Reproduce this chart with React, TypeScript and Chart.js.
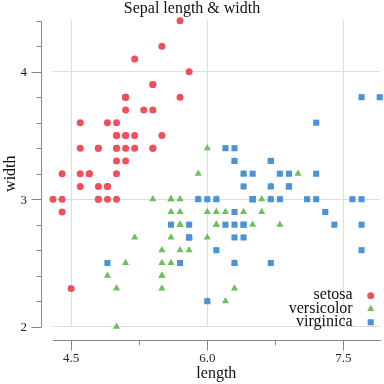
import React, { useEffect, useRef } from 'react';
import { Chart, registerables } from 'chart.js';

Chart.register(...registerables);

const species = ['setosa', 'versicolor', 'virginica'];

const setosaLength = [5.1, 4.9, 4.7, 4.6, 5.0, 5.4, 4.6, 5.0, 4.4, 4.9, 5.4, 4.8, 4.8, 4.3, 5.8, 5.7, 5.4, 5.1, 5.7, 5.1, 5.4, 5.1, 4.6, 5.1, 4.8, 5.0, 5.0, 5.2, 5.2, 4.7, 4.8, 5.4, 5.2, 5.5, 4.9, 5.0, 5.5, 4.9, 4.4, 5.1, 5.0, 4.5, 4.4, 5.0, 5.1, 4.8, 5.1, 4.6, 5.3, 5.0];
const setosaWidth = [3.5, 3.0, 3.2, 3.1, 3.6, 3.9, 3.4, 3.4, 2.9, 3.1, 3.7, 3.4, 3.0, 3.0, 4.0, 4.4, 3.9, 3.5, 3.8, 3.8, 3.4, 3.7, 3.6, 3.3, 3.4, 3.0, 3.4, 3.5, 3.4, 3.2, 3.1, 3.4, 4.1, 4.2, 3.1, 3.2, 3.5, 3.6, 3.0, 3.4, 3.5, 2.3, 3.2, 3.5, 3.8, 3.0, 3.8, 3.2, 3.7, 3.3];

const versicolorLength = [7.0, 6.4, 6.9, 5.5, 6.5, 5.7, 6.3, 4.9, 6.6, 5.2, 5.0, 5.9, 6.0, 6.1, 5.6, 6.7, 5.6, 5.8, 6.2, 5.6, 5.9, 6.1, 6.3, 6.1, 6.4, 6.6, 6.8, 6.7, 6.0, 5.7, 5.5, 5.5, 5.8, 6.0, 5.4, 6.0, 6.7, 6.3, 5.6, 5.5, 5.5, 6.1, 5.8, 5.0, 5.6, 5.7, 5.7, 6.2, 5.1, 5.7];
const versicolorWidth = [3.2, 3.2, 3.1, 2.3, 2.8, 2.8, 3.3, 2.4, 2.9, 2.7, 2.0, 3.0, 2.2, 2.9, 2.9, 3.1, 3.0, 2.7, 2.2, 2.5, 3.2, 2.8, 2.5, 2.8, 2.9, 3.0, 2.8, 3.0, 2.9, 2.6, 2.4, 2.4, 2.7, 2.7, 3.0, 3.4, 3.1, 2.3, 3.0, 2.5, 2.6, 3.0, 2.6, 2.3, 2.7, 3.0, 2.9, 2.9, 2.5, 2.8];

const virginicaLength = [6.3, 5.8, 7.1, 6.3, 6.5, 7.6, 4.9, 7.3, 6.7, 7.2, 6.5, 6.4, 6.8, 5.7, 5.8, 6.4, 6.5, 7.7, 7.7, 6.0, 6.9, 5.6, 7.7, 6.3, 6.7, 7.2, 6.2, 6.1, 6.4, 7.2, 7.4, 7.9, 6.4, 6.3, 6.1, 7.7, 6.3, 6.4, 6.0, 6.9, 6.7, 6.9, 5.8, 6.8, 6.7, 6.7, 6.3, 6.5, 6.2, 5.9];
const virginicaWidth = [3.3, 2.7, 3.0, 2.9, 3.0, 3.0, 2.5, 2.9, 2.5, 3.6, 3.2, 2.7, 3.0, 2.5, 2.8, 3.2, 3.0, 3.8, 2.6, 2.2, 3.2, 2.8, 2.8, 2.7, 3.3, 3.2, 2.8, 3.0, 2.8, 3.0, 2.8, 3.8, 2.8, 2.8, 2.6, 3.0, 3.4, 3.1, 3.0, 3.1, 3.1, 3.1, 2.7, 3.2, 3.3, 3.0, 2.5, 3.0, 3.4, 3.0];

const lengths = [setosaLength, versicolorLength, virginicaLength];
const widths = [setosaWidth, versicolorWidth, virginicaWidth];

const colors = ['#f0505b', '#6cc05b', '#4c92d6'];
const pointStyles = ['circle', 'triangle', 'rect'];
const pointRadii = [3.5, 4.1, 4.3];

const xTickLabels = ['4.5', '6.0', '7.5'];
const yTickLabels = ['2', '3', '4'];

const titleText = 'Sepal length & width';
const xTitle = 'length';
const yTitle = 'width';

const FONT = '"Liberation Serif", "Times New Roman", serif';

function isLabeled(value: number, labels: string[]) {
  return labels.some((l) => Math.abs(parseFloat(l) - value) < 1e-6);
}

function drawMarker(ctx: CanvasRenderingContext2D, style: string, x: number, y: number, r: number) {
  ctx.beginPath();
  if (style === 'circle') {
    ctx.arc(x, y, r, 0, Math.PI * 2);
  } else if (style === 'triangle') {
    let a = 0;
    ctx.moveTo(x + Math.sin(a) * r, y - Math.cos(a) * r);
    a += (2 * Math.PI) / 3;
    ctx.lineTo(x + Math.sin(a) * r, y - Math.cos(a) * r);
    a += (2 * Math.PI) / 3;
    ctx.lineTo(x + Math.sin(a) * r, y - Math.cos(a) * r);
    ctx.closePath();
  } else {
    const s = Math.SQRT1_2 * r;
    ctx.rect(x - s, y - s, 2 * s, 2 * s);
  }
  ctx.fill();
}

const decorPlugin = {
  id: 'decor',
  afterDraw(chart: any) {
    const ctx: CanvasRenderingContext2D = chart.ctx;
    const xs = chart.scales.x;
    const ys = chart.scales.y;
    const area = chart.chartArea;
    ctx.save();

    // Y axis (offset to the left)
    const axX = 41.5;
    ctx.strokeStyle = '#888888';
    ctx.lineWidth = 1;
    ctx.beginPath();
    ctx.moveTo(axX, Math.round(ys.getPixelForValue(ys.max)) + 0.5);
    ctx.lineTo(axX, Math.round(ys.getPixelForValue(ys.min)) + 0.5);
    ctx.stroke();
    ys.ticks.forEach((t: any) => {
      const py = Math.round(ys.getPixelForValue(t.value)) + 0.5;
      const major = isLabeled(t.value, yTickLabels);
      const len = major ? 10 : 5;
      ctx.beginPath();
      ctx.moveTo(axX - len, py);
      ctx.lineTo(axX, py);
      ctx.stroke();
    });

    // X axis (offset below)
    const axY = 340.5;
    ctx.beginPath();
    ctx.moveTo(Math.round(xs.getPixelForValue(xs.min)), axY);
    ctx.lineTo(Math.round(xs.getPixelForValue(xs.max)) + 1, axY);
    ctx.stroke();
    xs.ticks.forEach((t: any) => {
      const px = Math.round(xs.getPixelForValue(t.value)) + 0.5;
      const major = isLabeled(t.value, xTickLabels);
      const len = major ? 10 : 5;
      ctx.beginPath();
      ctx.moveTo(px, axY);
      ctx.lineTo(px, axY + len);
      ctx.stroke();
    });

    // Tick labels
    ctx.fillStyle = '#222222';
    ctx.font = `13px ${FONT}`;
    ctx.textBaseline = 'alphabetic';
    ctx.textAlign = 'right';
    yTickLabels.forEach((l) => {
      const py = ys.getPixelForValue(parseFloat(l));
      ctx.fillText(l, 27, py + 4.4);
    });
    ctx.textAlign = 'center';
    xTickLabels.forEach((l) => {
      const px = xs.getPixelForValue(parseFloat(l));
      ctx.fillText(l, px, 361.5);
    });

    // Titles
    ctx.fillStyle = '#111111';
    ctx.font = `16px ${FONT}`;
    ctx.textAlign = 'center';
    ctx.fillText(titleText, 192, 13);
    ctx.fillText(xTitle, (area.left + area.right) / 2, 378);
    ctx.save();
    ctx.translate(15, (area.top + area.bottom) / 2);
    ctx.rotate(-Math.PI / 2);
    ctx.fillText(yTitle, 0, 0);
    ctx.restore();

    // Legend
    ctx.textAlign = 'right';
    species.forEach((s, i) => {
      const base = 299.3 + i * 13.3;
      ctx.fillStyle = '#111111';
      ctx.fillText(s, 352.7, base);
      ctx.fillStyle = colors[i];
      drawMarker(ctx, pointStyles[i], 370.7, base - 3.6, pointRadii[i]);
    });

    ctx.restore();
  },
};

export default function App() {
  const ref = useRef<HTMLCanvasElement | null>(null);

  useEffect(() => {
    document.body.style.margin = '0';
    const canvas = ref.current;
    if (!canvas) return;
    const chart = new Chart(canvas, {
      type: 'scatter',
      data: {
        datasets: species.map((s, i) => ({
          label: s,
          data: lengths[i].map((x, j) => ({ x, y: widths[i][j] })),
          order: species.length - 1 - i,
          pointStyle: pointStyles[i] as any,
          pointRadius: pointRadii[i],
          pointHoverRadius: pointRadii[i],
          backgroundColor: colors[i],
          borderColor: colors[i],
          borderWidth: 0,
          clip: false as any,
        })),
      },
      options: {
        animation: false,
        responsive: false,
        devicePixelRatio: 1,
        events: [],
        layout: { padding: { top: 20.7, right: 3.5, left: 0, bottom: 0 } },
        plugins: {
          legend: { display: false },
          title: { display: false },
          tooltip: { enabled: false },
        },
        scales: {
          x: {
            type: 'linear',
            min: 4.3,
            max: 7.9,
            ticks: { stepSize: 0.75, includeBounds: false, display: false },
            grid: {
              drawTicks: false,
              color: (c: any) => (c.tick && isLabeled(c.tick.value, xTickLabels) ? '#dddddd' : 'rgba(0,0,0,0)'),
            },
            border: { display: false },
            afterFit: (s: any) => {
              s.height = 57.3;
            },
          },
          y: {
            type: 'linear',
            min: 2,
            max: 4.4,
            ticks: { stepSize: 0.2, includeBounds: false, display: false },
            grid: {
              drawTicks: false,
              color: (c: any) => (c.tick && isLabeled(c.tick.value, yTickLabels) ? '#dddddd' : 'rgba(0,0,0,0)'),
            },
            border: { display: false },
            afterFit: (s: any) => {
              s.width = 53;
            },
          },
        },
      },
      plugins: [decorPlugin],
    });
    return () => chart.destroy();
  }, []);

  return (
    <canvas
      ref={ref}
      width={384}
      height={384}
      style={{ position: 'absolute', left: 0, top: 0, width: 384, height: 384 }}
    />
  );
}
